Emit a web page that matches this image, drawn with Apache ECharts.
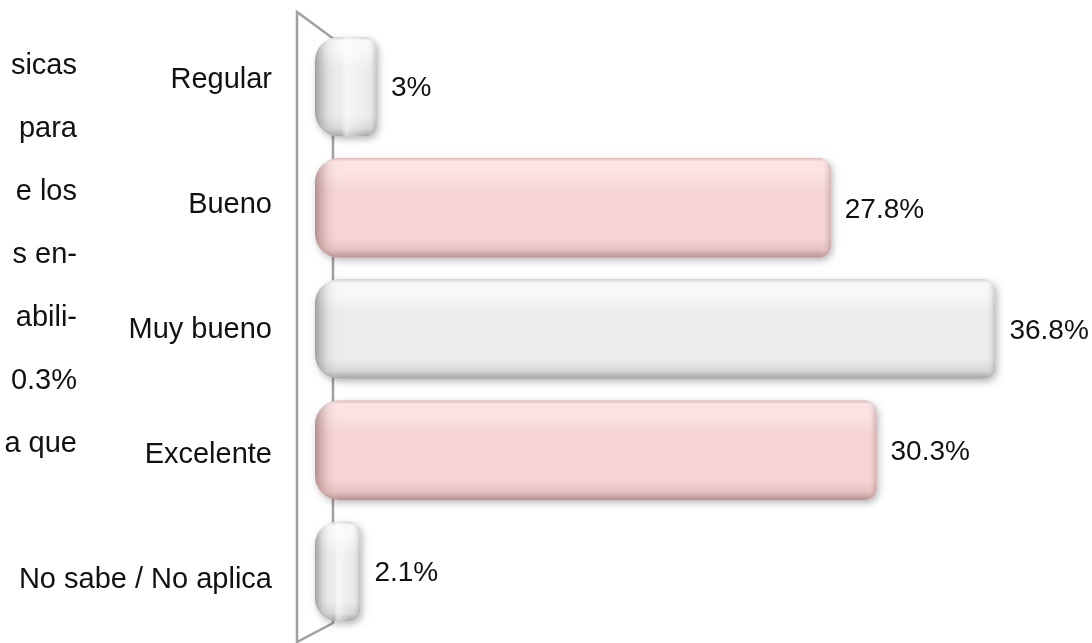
<!DOCTYPE html>
<html>
<head>
<meta charset="utf-8">
<script src="https://cdn.jsdelivr.net/npm/echarts@6/dist/echarts.min.js"></script>
<style>
  html, body { margin: 0; padding: 0; background: #ffffff; }
  #chart { width: 1092px; height: 643px; }
</style>
</head>
<body>
<div id="chart"></div>
<script>
// Survey rating categories and their shares (%)
const categories = ['Regular', 'Bueno', 'Muy bueno', 'Excelente', 'No sabe / No aplica'];
const values = [3, 27.8, 36.8, 30.3, 2.1];
const barTones = ['gray', 'pink', 'gray', 'pink', 'gray'];

// Tail ends of the neighbouring paragraph lines
const sideText = ['sicas', 'para', 'e los', 's en-', 'abili-', '0.3%', 'a que'];

const FONT = '"Liberation Sans", Arial, Helvetica, sans-serif';

const palettes = {
  gray: { edgeTop: '#cfcfcf', hi: '#f8f8f8', main: '#ececec', low: '#d7d7d7', edgeBottom: '#a4a4a4', cap: 'rgba(95,95,95,0.55)', capMid: 'rgba(140,140,140,0.18)', end: 'rgba(90,90,90,0.30)' },
  pink: { edgeTop: '#dbbbba', hi: '#fbe4e3', main: '#f6d5d4', low: '#e5c2c1', edgeBottom: '#b69292', cap: 'rgba(125,85,85,0.55)', capMid: 'rgba(160,120,120,0.18)', end: 'rgba(120,80,80,0.30)' }
};

function renderBar(params, api) {
  const v = api.value(0);
  const idx = api.value(1);
  const p0 = api.coord([0, idx]);
  const p1 = api.coord([v, idx]);
  const band = api.size([0, 1])[1];
  const h = band * 0.82;
  const cap = 7;
  const x = p0[0] - cap;
  const y = p0[1] - h / 2;
  const w = p1[0] - x;
  const tone = palettes[barTones[params.dataIndex]];
  const rl = Math.min(24, w / 2);
  const rr = Math.min(12, w / 2);
  const shape = { x: x, y: y, width: w, height: h, r: [rl, rr, rr, rl] };

  const vGrad = new echarts.graphic.LinearGradient(0, 0, 0, 1, [
    { offset: 0, color: tone.edgeTop },
    { offset: 0.035, color: tone.hi },
    { offset: 0.14, color: tone.hi },
    { offset: 0.32, color: tone.main },
    { offset: 0.8, color: tone.main },
    { offset: 0.92, color: tone.low },
    { offset: 1, color: tone.edgeBottom }
  ]);

  const a = Math.min(0.42, 26 / w);
  const b = Math.max(a + 0.01, 1 - 10 / w);
  const hStops = [
    { offset: 0, color: tone.cap },
    { offset: a * 0.45, color: tone.capMid },
    { offset: a, color: 'rgba(255,255,255,0)' }
  ];
  if (w < 120) hStops.push({ offset: 0.5, color: 'rgba(255,255,255,0.55)' });
  hStops.push({ offset: b, color: 'rgba(255,255,255,0)' });
  hStops.push({ offset: 1, color: tone.end });
  const hGrad = new echarts.graphic.LinearGradient(0, 0, 1, 0, hStops);

  return {
    type: 'group',
    children: [
      { type: 'rect', shape: shape, style: { fill: tone.main, shadowBlur: 7, shadowOffsetX: 2, shadowOffsetY: 3, shadowColor: 'rgba(0,0,0,0.28)' } },
      { type: 'rect', shape: shape, style: { fill: vGrad } },
      { type: 'rect', shape: shape, style: { fill: hGrad } },
      {
        type: 'text',
        style: {
          text: v + '%',
          x: p1[0] + 14,
          y: p1[1] + 2,
          align: 'left',
          verticalAlign: 'middle',
          font: '28px ' + FONT,
          fill: '#111111'
        }
      }
    ]
  };
}

const chart = echarts.init(document.getElementById('chart'), null, { renderer: 'canvas' });

const sideGraphics = sideText.map(function (t, i) {
  return {
    type: 'text',
    right: 1092 - 77,
    top: 68 + i * 63 - 17,
    style: { text: t, font: '29px ' + FONT, fill: '#111111', align: 'right' }
  };
});

chart.setOption({
  backgroundColor: '#ffffff',
  animation: false,
  grid: [
    { left: 322, right: 38, top: 26, height: 606 },
    { left: 280, width: 10, top: 17, height: 634 }
  ],
  xAxis: [
    { type: 'value', gridIndex: 0, min: 0, max: 40, show: false },
    { type: 'value', gridIndex: 1, show: false }
  ],
  yAxis: [
    { type: 'category', gridIndex: 0, data: categories, inverse: true, show: false },
    {
      type: 'category', gridIndex: 1, data: categories, inverse: true,
      axisLine: { show: false }, axisTick: { show: false },
      axisLabel: { margin: 8, fontSize: 29, fontFamily: FONT, color: '#111111' }
    }
  ],
  graphic: [
    {
      type: 'polyline',
      z: 0,
      shape: { points: [[297, 645], [297, 12], [331, 37], [333, 38], [333, 623], [297, 642]] },
      style: { stroke: '#a0a0a0', lineWidth: 2.5, fill: null }
    }
  ].concat(sideGraphics),
  series: [
    {
      type: 'custom',
      xAxisIndex: 0,
      yAxisIndex: 0,
      z: 5,
      renderItem: renderBar,
      encode: { x: 0, y: 1 },
      data: values.map(function (v, i) { return [v, i]; })
    }
  ]
});
</script>
</body>
</html>
